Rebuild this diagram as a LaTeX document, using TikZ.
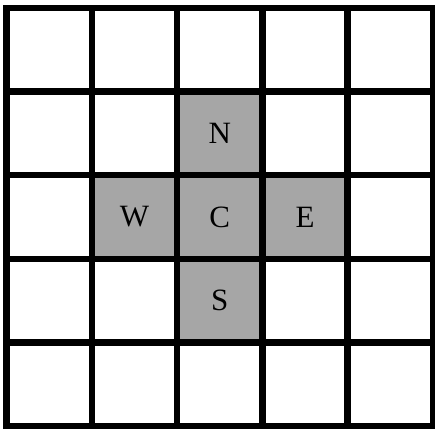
\documentclass[tikz,border=0pt]{standalone}
\usepackage{fontspec}
\setmainfont{Liberation Serif}
\definecolor{cellgray}{RGB}{166,166,166}
\begin{document}
\begin{tikzpicture}[x=1pt,y=1pt,
  cell/.style={draw=black,line width=6.5pt,minimum width=85.3pt,minimum height=83.6pt,inner sep=0pt,outer sep=0pt,fill=white},
  graycell/.style={cell,fill=cellgray,font=\fontsize{31}{36}\selectfont}]
\useasboundingbox (0,0) rectangle (435,429);
\foreach \i in {0,...,4}{
  \foreach \j in {0,...,4}{
    \node[cell] (c\i\j) at ({6.5+85.3*(\i+0.5)},{429-(8+83.6*(\j+0.5))}) {};
  }
}
\node[graycell] (N) at (c21) {N};
\node[graycell] (W) at (c12) {W};
\node[graycell] (C) at (c22) {C};
\node[graycell] (E) at (c32) {E};
\node[graycell] (S) at (c23) {S};
\end{tikzpicture}
\end{document}
